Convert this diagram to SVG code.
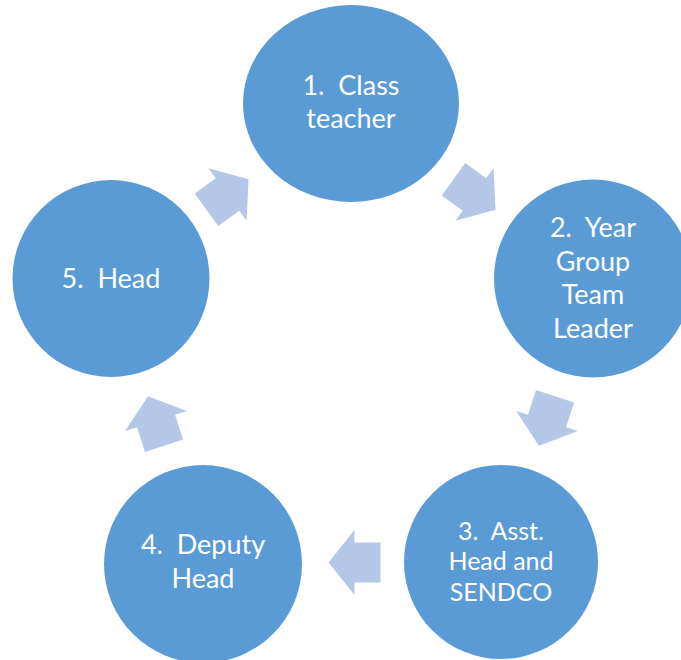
<svg xmlns="http://www.w3.org/2000/svg" width="681" height="660" viewBox="0 0 681 660">
<style>
.node{fill:#5b9bd5}
.lbl{fill:#ffffff;font-family:Lato,"Open Sans","Liberation Sans",sans-serif;font-size:27px;text-anchor:middle;white-space:pre}
.sm{font-size:25px}
.arr{fill:#b4c7e7}
</style>
<defs>
<polygon id="arrow" points="26,0 0,32.5 0,20 -26,20 -26,-20 0,-20 0,-32.5"/>
</defs>
<rect width="681" height="660" fill="#ffffff"/>
<g id="connectors">
<use href="#arrow" class="arr" transform="translate(227.5,194.5) rotate(-36)"/>
<use href="#arrow" class="arr" transform="translate(474.5,194.5) rotate(36)"/>
<use href="#arrow" class="arr" transform="translate(547,421) rotate(108)"/>
<use href="#arrow" class="arr" transform="translate(354.5,562.5) rotate(180)"/>
<use href="#arrow" class="arr" transform="translate(156,421) rotate(252)"/>
</g>
<g id="node1">
<ellipse class="node" cx="351" cy="103.5" rx="108" ry="98.5"/>
<text class="lbl" x="351" y="95" xml:space="preserve">1.  Class</text>
<text class="lbl" x="351" y="128">teacher</text>
</g>
<g id="node2">
<circle class="node" cx="593" cy="278.5" r="99"/>
<text class="lbl" x="593" y="237" xml:space="preserve">2.  Year</text>
<text class="lbl" x="593" y="270.5">Group</text>
<text class="lbl" x="593" y="304">Team</text>
<text class="lbl" x="593" y="337.5">Leader</text>
</g>
<g id="node3">
<circle class="node" cx="501" cy="562" r="97"/>
<text class="lbl sm" x="501" y="539.5" xml:space="preserve">3.  Asst.</text>
<text class="lbl sm" x="501" y="570">Head and</text>
<text class="lbl sm" x="501" y="600.5">SENDCO</text>
</g>
<g id="node4">
<circle class="node" cx="203" cy="564" r="99"/>
<text class="lbl" x="203" y="554" xml:space="preserve">4.  Deputy</text>
<text class="lbl" x="203" y="587.5">Head</text>
</g>
<g id="node5">
<circle class="node" cx="111" cy="278.5" r="98.5"/>
<text class="lbl" x="111" y="287.5" xml:space="preserve">5.  Head</text>
</g>
</svg>
